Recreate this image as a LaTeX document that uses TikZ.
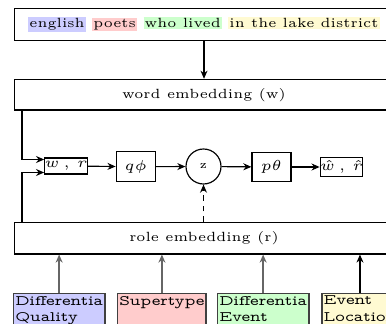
\documentclass[tikz,border=0pt]{standalone}
\usepackage{graphicx}
\usetikzlibrary{arrows.meta}
\newdimen\unitpx \unitpx=0.345pt
\definecolor{hlblue}{RGB}{204,204,255}
\definecolor{hlred}{RGB}{255,204,204}
\definecolor{hlgreen}{RGB}{204,255,204}
\definecolor{hlyellow}{RGB}{255,250,210}
\newcommand\rolelab[1]{\scalebox{1.26}[1]{#1}}
\tikzset{
  arr/.style={-{Stealth[length=2.8pt,width=2.4pt]}},
  garr/.style={-{Stealth[length=2.8pt,width=2.4pt]}, draw=black!60, line width=0.7pt},
  bigbox/.style={draw, rectangle, inner sep=0pt, minimum width=379.4\unitpx},
  smallbox/.style={draw, rectangle, inner sep=0pt},
  rolebox/.style={draw=black!75, line width=0.6pt, rectangle, inner sep=0.6pt, align=left, anchor=north west,
    minimum height=30.8\unitpx, text depth=0pt, font=\fontsize{5}{5.8}\selectfont\fontfamily{lmvtt}\selectfont}
}
\begin{document}
\begin{tikzpicture}[x=0.345pt, y=-0.345pt, font=\fontsize{4.6}{5.6}\selectfont]
\clip (0,0) rectangle (386,324);
\fill[white] (0,0) rectangle (386,324);
\node[bigbox, minimum height=32.4\unitpx] (sent) at (204,24.5)
  {\fboxsep=0.4pt\colorbox{hlblue}{english} \colorbox{hlred}{poets} \colorbox{hlgreen}{who lived} \colorbox{hlyellow}{in the lake district}};
\node[bigbox, minimum height=30.7\unitpx] (wemb) at (204,94.7) {word embedding (w)};
\node[bigbox, minimum height=31.3\unitpx] (remb) at (204,238.3) {role embedding (r)};
\node[smallbox, minimum width=40\unitpx, minimum height=16\unitpx] (wr) at (66,166) {$w\,,\,r$};
\node[smallbox, minimum width=39\unitpx, minimum height=30\unitpx] (q) at (135.7,166.7) {$q\phi$};
\node[draw, circle, inner sep=0pt, minimum size=35\unitpx, font=\fontsize{4}{5}\selectfont] (z) at (203.5,166.5) {z};
\node[smallbox, minimum width=39\unitpx, minimum height=29.5\unitpx] (p) at (271.5,167) {$p\theta$};
\node[smallbox, minimum width=40\unitpx, minimum height=19\unitpx] (hat) at (341.5,167) {$\hat{w}\,,\,\hat{r}$};
\coordinate (c1) at (22,159.5);
\coordinate (c2) at (22,172.5);
\draw[arr] (sent) -- (wemb);
\draw[arr] (wemb.south -| c1) |- (c1 -| wr.west);
\draw[arr] (remb.north -| c2) |- (c2 -| wr.west);
\draw[arr] (wr) -- (q);
\draw[arr] (q) -- (z);
\draw[arr] (z) -- (p);
\draw[arr] (p) -- (hat);
\draw[arr, dash pattern=on 2pt off 1.7pt] (remb.north -| z) -- (z.south);
\node[rolebox, fill=hlblue, minimum width=88\unitpx] (dq) at (12.7,292.7) {\rolelab{Differentia}\\\rolelab{Quality}};
\node[rolebox, fill=hlred, minimum width=84\unitpx] (st) at (116.7,292.7) {\rolelab{Supertype}\\\mbox{}};
\node[rolebox, fill=hlgreen, minimum width=88\unitpx] (de) at (216.7,292.7) {\rolelab{Differentia}\\\rolelab{Event}};
\node[rolebox, fill=hlyellow, minimum width=72\unitpx] (el) at (321,292.7) {\rolelab{Event}\\\rolelab{Location}};
\draw[garr] (dq.north) -- (dq.north |- remb.south);
\draw[garr] (st.north) -- (st.north |- remb.south);
\draw[garr] (de.north) -- (de.north |- remb.south);
\draw[arr] (el.north) -- (el.north |- remb.south);
\end{tikzpicture}
\end{document}
